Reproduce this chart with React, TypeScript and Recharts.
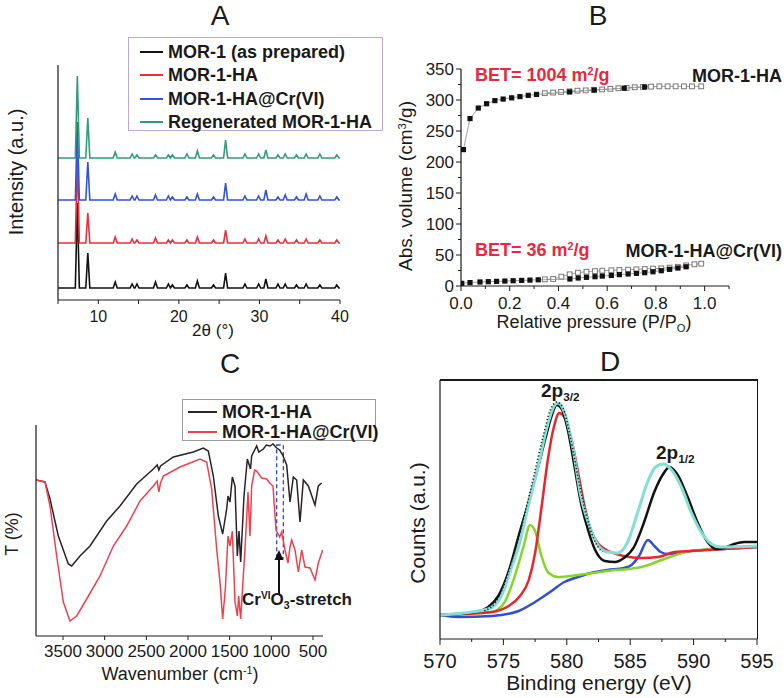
import React from "react"
import {
  LineChart,
  Line,
  XAxis,
  YAxis,
  ScatterChart,
  Scatter,
  ReferenceArea,
  ReferenceLine,
  ReferenceDot,
} from "recharts"

const FONT = '"Liberation Sans", Arial, Helvetica, sans-serif'
const INK = "#1a1a1a"

// ---------- A: PXRD patterns ----------
const xrdPeaks = [7.4, 8.7, 12.1, 14.2, 14.8, 17.1, 18.7, 19.2, 21.0, 22.3, 24.3, 25.8, 28.2, 29.9, 30.8, 32.3, 33.2, 34.6, 35.8, 37.5, 39.6]
const xrdAsPrepared = [85, 35, 6, 4, 4, 6, 4, 3, 3, 7, 3, 15, 4, 4, 9, 4, 4, 3, 4, 3, 3]
const xrdHA = [86, 30, 6, 4, 3, 5, 3, 3, 3, 6, 3, 13, 4, 4, 7, 3, 4, 3, 4, 3, 3]
const xrdCr = [78, 38, 6, 4, 4, 5, 4, 3, 3, 6, 3, 17, 4, 4, 10, 3, 5, 3, 6, 4, 3]
const xrdRegen = [82, 40, 6, 4, 3, 3, 3, 3, 4, 7, 3, 18, 4, 4, 8, 3, 4, 3, 4, 4, 3]
const xrdBaselines = [12, 57, 100, 142]
const xrdTicks = [5, 10, 15, 20, 25, 30, 35, 40]
const xrdTickLabels = [10, 20, 30, 40]
const legendA = ["MOR-1 (as prepared)", "MOR-1-HA", "MOR-1-HA@Cr(VI)", "Regenerated MOR-1-HA"]
const colorsA = ["#111111", "#e8303a", "#3152dd", "#2e9e78"]

// ---------- B: N2 isotherms ----------
const haAdsP = [0.01, 0.037, 0.071, 0.105, 0.139, 0.173, 0.208, 0.242, 0.276, 0.31, 0.446, 0.547, 0.67, 0.754]
const haAdsV = [220, 270, 287, 294, 299, 301.5, 303.5, 305.5, 307.5, 309, 313, 316, 319, 321]
const haDesP = [0.344, 0.378, 0.411, 0.445, 0.478, 0.512, 0.545, 0.579, 0.613, 0.646, 0.68, 0.713, 0.747, 0.78, 0.814, 0.848, 0.881, 0.915, 0.948, 0.986]
const haDesV = [311, 312, 313, 314, 315, 315.5, 316.5, 317, 318, 319, 319.5, 320.5, 321, 321.5, 322, 322, 322, 322, 322, 322]
const crAdsP = [0.003, 0.037, 0.078, 0.112, 0.146, 0.18, 0.214, 0.249, 0.283, 0.317, 0.447, 0.481, 0.515, 0.55, 0.58, 0.617, 0.65, 0.686, 0.72, 0.754, 0.788, 0.822, 0.856, 0.89, 0.924]
const crAdsV = [4.3, 5.5, 6.5, 7, 7.5, 8, 8.5, 9, 9.5, 10, 11.3, 12.9, 14, 15, 16, 17, 18.3, 19.4, 20.4, 21.5, 23, 24.7, 26.9, 29, 31]
const crDesP = [0.344, 0.378, 0.412, 0.446, 0.48, 0.515, 0.55, 0.58, 0.617, 0.65, 0.686, 0.72, 0.754, 0.788, 0.822, 0.856, 0.89, 0.924, 0.958, 0.986]
const crDesV = [10.7, 11.3, 15, 18.8, 21.5, 23, 24, 24.7, 25.3, 25.8, 26.3, 26.9, 27.4, 28, 28.5, 29.6, 31, 33.3, 35, 36]
const bTicksX = [0, 0.1, 0.2, 0.3, 0.4, 0.5, 0.6, 0.7, 0.8, 0.9, 1.0, 1.1]
const bLabelsX = [0, 0.2, 0.4, 0.6, 0.8, 1.0]
const bTicksY = [0, 25, 50, 75, 100, 125, 150, 175, 200, 225, 250, 275, 300, 325, 350]
const bLabelsY = [0, 50, 100, 150, 200, 250, 300, 350]

// ---------- C: FT-IR ----------
const irHAWn = [3824, 3716, 3656, 3556, 3436, 3396, 3296, 3176, 2976, 2816, 2616, 2416, 2370, 2350, 2330, 2176, 1936, 1816, 1756, 1696, 1636, 1584, 1536, 1520, 1496, 1468, 1436, 1408, 1388, 1368, 1328, 1288, 1250, 1236, 1176, 1150, 1096, 1060, 1016, 980, 936, 900, 864, 816, 776, 736, 696, 656, 616, 556, 476, 436, 396]
const irHAT = [156, 154, 137, 100, 72, 70, 80, 90, 115, 130, 152, 167, 171, 166, 170, 179, 184, 188, 185, 160, 120, 102, 127, 140, 134, 159, 150, 80, 105, 74, 140, 177, 167, 180, 190, 184, 187, 191, 190, 192, 188, 186, 181, 171, 134, 159, 156, 114, 156, 150, 131, 150, 153]
const irCrWn = [3824, 3716, 3656, 3576, 3496, 3416, 3336, 3216, 3056, 2896, 2736, 2576, 2416, 2370, 2350, 2330, 2296, 2096, 1856, 1776, 1716, 1656, 1616, 1584, 1552, 1520, 1496, 1468, 1436, 1408, 1392, 1368, 1316, 1280, 1256, 1236, 1200, 1176, 1116, 1056, 1020, 980, 944, 900, 876, 836, 800, 776, 756, 716, 676, 636, 596, 536, 476, 436, 384]
const irCrT = [156, 154, 130, 80, 34, 15, 20, 37, 60, 90, 110, 135, 150, 155, 144, 153, 160, 169, 177, 174, 147, 87, 54, 17, 47, 100, 90, 105, 34, 20, 40, 17, 87, 144, 100, 150, 166, 165, 158, 157, 153, 150, 106, 99, 104, 86, 73, 89, 96, 86, 64, 86, 69, 68, 56, 73, 86]
const irTicks = [500, 1000, 1500, 2000, 2500, 3000, 3500]
const legendC = ["MOR-1-HA", "MOR-1-HA@Cr(VI)"]
const colorsC = ["#2a2226", "#f0404c"]

// ---------- D: Cr 2p XPS ----------
const xpsBgEv = [570, 571.4, 574.1, 576.2, 577.5, 578.8, 579.8, 580.9, 581.9, 583.2, 584.5, 585.1, 585.7, 586.4, 586.9, 587.4, 588.0, 589.8, 592.4, 595]
const xpsBgC = [23, 21, 22, 27, 36, 47, 56, 61, 65, 68, 70, 73, 82, 98, 92, 86, 84, 87, 89, 91]
const xpsGreenEv = [570, 574.1, 575.1, 575.9, 576.6, 577.1, 577.5, 578.0, 578.5, 579.3, 580.9, 583.2, 585.9, 587.7, 589.8, 595]
const xpsGreenC = [23, 26, 36, 62, 92, 113, 107, 82, 66, 61, 63, 67, 71, 79, 87, 91]
const xpsRedEv = [570, 574.1, 575.4, 576.3, 577.0, 577.5, 578.0, 578.5, 579.0, 579.4, 579.8, 580.4, 580.9, 581.4, 581.9, 582.5, 583.0, 584.5, 585.9, 587.2, 588.5, 589.8, 595]
const xpsRedC = [23, 26, 32, 42, 58, 85, 130, 178, 212, 225, 221, 197, 165, 132, 108, 94, 89, 82, 80, 81, 86, 87, 91]
const xpsBlackEv = [570, 572.8, 573.8, 574.6, 575.4, 576.2, 576.9, 577.7, 578.3, 578.8, 579.2, 579.6, 580.1, 580.6, 581.1, 581.7, 582.2, 583.0, 583.8, 584.5, 585.3, 586.1, 586.9, 587.6, 588.1, 588.7, 589.5, 590.3, 591.1, 591.8, 592.4, 593.2, 594.0, 595]
const xpsBlackC = [23, 26, 31, 42, 66, 102, 132, 169, 199, 222, 233, 229, 207, 172, 136, 107, 89, 77, 76, 80, 91, 116, 146, 164, 171, 164, 142, 116, 96, 89, 90, 94, 96, 96]
const xpsFitEv = [570, 573.8, 574.8, 575.6, 576.3, 576.9, 577.7, 578.4, 579.0, 579.3, 579.8, 580.5, 581.1, 581.8, 582.4, 583.2, 584.0, 584.8, 585.6, 586.4, 587.0, 587.6, 588.2, 589.0, 589.8, 590.6, 591.4, 592.1, 595]
const xpsFitC = [23, 29, 41, 69, 96, 129, 169, 209, 232, 235, 226, 189, 142, 112, 94, 86, 85, 96, 126, 157, 171, 174, 169, 152, 126, 106, 94, 91, 92]
const xpsRawEv = [573.5, 574.5, 575.3, 576.0, 576.7, 577.4, 578.1, 578.7, 579.2, 579.7, 580.3, 580.9, 581.5, 582.1, 582.8]
const xpsRawC = [27, 38, 62, 92, 125, 162, 200, 228, 236, 230, 200, 160, 125, 100, 86]
const xpsTicks = [570, 572.5, 575, 577.5, 580, 582.5, 585, 587.5, 590, 592.5, 595]
const xpsLabels = [570, 575, 580, 585, 590, 595]

type Pt = { x: number; y: number }
const zip = (xs: number[], ys: number[]): Pt[] => xs.map((x, i) => ({ x, y: ys[i] }))

function xrdTrace(base: number, heights: number[]): Pt[] {
  const pts: Pt[] = [{ x: 5, y: base }]
  xrdPeaks.forEach((p, i) => {
    pts.push({ x: p - 0.25, y: base }, { x: p, y: base + heights[i] }, { x: p + 0.25, y: base })
  })
  pts.push({ x: 40, y: base })
  return pts
}

type Plot = { x0: number; y0: number; x1: number; y1: number }
const PAD = { l: 60, r: 30, t: 10, b: 40 }
function place(p: Plot) {
  return {
    style: { position: "absolute" as const, left: p.x0 - PAD.l, top: p.y0 - PAD.t },
    width: p.x1 - p.x0 + PAD.l + PAD.r,
    height: p.y1 - p.y0 + PAD.t + PAD.b,
  }
}
const margin = { top: PAD.t, right: PAD.r, bottom: 0, left: 0 }
const axisStyle = { stroke: INK, strokeWidth: 1.2 }
const near = (list: number[], v: number) => list.some((l) => Math.abs(l - v) < 1e-6)

function xTick(labels: number[], fmt: (v: number) => string, size: number, off: number, major = 5, minor = 3) {
  return (props: any) => {
    const { x, y, payload } = props
    const isMajor = near(labels, payload.value)
    return (
      <g>
        <line x1={x} y1={y} x2={x} y2={y + (isMajor ? major : minor)} stroke={INK} />
        {isMajor && (
          <text x={x} y={y + off} textAnchor="middle" dominantBaseline="central" fontSize={size} fontFamily={FONT} fill={INK}>
            {fmt(payload.value)}
          </text>
        )}
      </g>
    )
  }
}

function yTick(labels: number[], size: number, off: number) {
  return (props: any) => {
    const { x, y, payload } = props
    const isMajor = near(labels, payload.value)
    return (
      <g>
        <line x1={x} y1={y} x2={x - (isMajor ? 5 : 3)} y2={y} stroke={INK} />
        {isMajor && (
          <text x={x - off} y={y} textAnchor="end" dominantBaseline="central" fontSize={size} fontFamily={FONT} fill={INK}>
            {payload.value}
          </text>
        )}
      </g>
    )
  }
}

function Txt(props: {
  x: number
  y: number
  size?: number
  bold?: boolean
  color?: string
  anchor?: "start" | "middle" | "end"
  rotate?: boolean
  children: React.ReactNode
}) {
  const { x, y, size = 18, bold = false, color = INK, anchor = "middle", rotate = false } = props
  const tx = anchor === "start" ? "0" : anchor === "end" ? "-100%" : "-50%"
  return (
    <div
      style={{
        position: "absolute",
        left: x,
        top: y,
        transform: `translate(${tx}, -50%)${rotate ? " rotate(-90deg)" : ""}`,
        fontSize: size,
        fontWeight: bold ? 700 : 400,
        color,
        lineHeight: 1,
        whiteSpace: "nowrap",
        fontFamily: FONT,
      }}
    >
      {props.children}
    </div>
  )
}

const Sup = ({ children }: { children: React.ReactNode }) => (
  <span style={{ fontSize: "0.6em", position: "relative", top: "-0.55em" }}>{children}</span>
)
const Sub = ({ children }: { children: React.ReactNode }) => (
  <span style={{ fontSize: "0.62em", position: "relative", top: "0.35em" }}>{children}</span>
)

// ---------- panels ----------
const plotA: Plot = { x0: 58, y0: 65, x1: 340, y1: 300 }
function PanelA() {
  const b = place(plotA)
  const traces = [xrdAsPrepared, xrdHA, xrdCr, xrdRegen]
  return (
    <div style={b.style}>
      <LineChart width={b.width} height={b.height} margin={margin}>
        <XAxis
          type="number"
          dataKey="x"
          domain={[5, 40]}
          ticks={xrdTicks}
          interval={0}
          allowDataOverflow
          height={PAD.b}
          tickSize={0}
          tickMargin={0}
          tickLine={false}
          axisLine={axisStyle}
          tick={xTick(xrdTickLabels, String, 16, 16, 4, 4)}
        />
        <YAxis type="number" domain={[0, 235]} allowDataOverflow width={PAD.l} tick={false} tickLine={false} axisLine={axisStyle} />
        {traces.map((h, i) => (
          <Line
            key={i}
            data={xrdTrace(xrdBaselines[i], h)}
            dataKey="y"
            type="linear"
            stroke={colorsA[i]}
            strokeWidth={1.6}
            dot={false}
            activeDot={false}
            isAnimationActive={false}
          />
        ))}
      </LineChart>
    </div>
  )
}

const plotB: Plot = { x0: 461, y0: 69, x1: 729, y1: 286 }
const filledSq = (p: any) => <rect x={p.cx - 2.6} y={p.cy - 2.6} width={5.2} height={5.2} fill="#111" />
const openSq = (p: any) => (
  <rect x={p.cx - 2.4} y={p.cy - 2.4} width={4.8} height={4.8} fill="#fff" stroke="#777" strokeWidth={1} />
)
function PanelB() {
  const b = place(plotB)
  const lineStyle = { stroke: "#8a8a8a", strokeWidth: 0.8 }
  return (
    <div style={b.style}>
      <ScatterChart width={b.width} height={b.height} margin={margin}>
        <XAxis
          type="number"
          dataKey="x"
          domain={[0, 1.1]}
          ticks={bTicksX}
          interval={0}
          allowDataOverflow
          height={PAD.b}
          tickSize={0}
          tickMargin={0}
          tickLine={false}
          axisLine={axisStyle}
          tick={xTick(bLabelsX, (v) => v.toFixed(1), 17, 17, 5, 3)}
        />
        <YAxis
          type="number"
          dataKey="y"
          domain={[0, 350]}
          ticks={bTicksY}
          interval={0}
          allowDataOverflow
          width={PAD.l}
          tickSize={0}
          tickMargin={0}
          tickLine={false}
          axisLine={axisStyle}
          tick={yTick(bLabelsY, 17, 7)}
        />
        <Scatter data={zip(haDesP, haDesV)} line={lineStyle} shape={openSq} isAnimationActive={false} />
        <Scatter data={zip(haAdsP, haAdsV)} line={lineStyle} shape={filledSq} isAnimationActive={false} />
        <Scatter data={zip(crDesP, crDesV)} line={lineStyle} shape={openSq} isAnimationActive={false} />
        <Scatter data={zip(crAdsP, crAdsV)} line={lineStyle} shape={filledSq} isAnimationActive={false} />
      </ScatterChart>
    </div>
  )
}

const plotC: Plot = { x0: 36, y0: 425, x1: 323, y1: 636 }
const arrowHead = (p: any) => <path d={`M${p.cx},${p.cy} l-4.5,10 l9,0 z`} fill="#111" />
function PanelC() {
  const b = place(plotC)
  return (
    <div style={b.style}>
      <LineChart width={b.width} height={b.height} margin={margin}>
        <XAxis
          type="number"
          dataKey="x"
          domain={[380, 3824]}
          reversed
          ticks={irTicks}
          interval={0}
          allowDataOverflow
          height={PAD.b}
          tickSize={0}
          tickMargin={0}
          tickLine={false}
          axisLine={axisStyle}
          tick={xTick(irTicks, String, 17, 15, 4, 4)}
        />
        <YAxis type="number" domain={[0, 211]} allowDataOverflow width={PAD.l} tick={false} tickLine={false} axisLine={axisStyle} />
        <Line data={zip(irHAWn, irHAT)} dataKey="y" type="linear" stroke={colorsC[0]} strokeWidth={1.5} dot={false} activeDot={false} isAnimationActive={false} />
        <Line data={zip(irCrWn, irCrT)} dataKey="y" type="linear" stroke={colorsC[1]} strokeWidth={1.5} dot={false} activeDot={false} isAnimationActive={false} />
        <ReferenceArea x1={936} x2={856} y1={78} y2={191} fill="none" fillOpacity={0} stroke="#2f45d0" strokeWidth={1.3} strokeDasharray="4 3" />
        <ReferenceLine segment={[{ x: 908, y: 42 }, { x: 908, y: 80 }]} stroke="#111" strokeWidth={2} />
        <ReferenceDot x={908} y={86} r={0} shape={arrowHead} />
      </LineChart>
    </div>
  )
}

const plotD: Plot = { x0: 440, y0: 380, x1: 757, y1: 639 }
function PanelD() {
  const b = place(plotD)
  const series = [
    { xs: xpsBgEv, ys: xpsBgC, c: "#2f4ed6", w: 2.5, dash: undefined },
    { xs: xpsGreenEv, ys: xpsGreenC, c: "#86d62a", w: 2.5, dash: undefined },
    { xs: xpsRedEv, ys: xpsRedC, c: "#e8262e", w: 2.5, dash: undefined },
    { xs: xpsBlackEv, ys: xpsBlackC, c: "#111111", w: 2.5, dash: undefined },
    { xs: xpsFitEv, ys: xpsFitC, c: "#7fe0d3", w: 3, dash: undefined },
    { xs: xpsRawEv, ys: xpsRawC, c: "#222222", w: 1.6, dash: "1.2 2.2" },
  ]
  return (
    <>
      <div style={b.style}>
        <LineChart width={b.width} height={b.height} margin={margin}>
          <XAxis
            type="number"
            dataKey="x"
            domain={[570, 595]}
            ticks={xpsTicks}
            interval={0}
            allowDataOverflow
            height={PAD.b}
            tickSize={0}
            tickMargin={0}
            tickLine={false}
            axisLine={axisStyle}
            tick={xTick(xpsLabels, String, 20, 22, 6, 3)}
          />
          <YAxis type="number" domain={[-1, 258]} allowDataOverflow width={PAD.l} tick={false} tickLine={false} axisLine={axisStyle} />
          {series.map((s, i) => (
            <Line
              key={i}
              data={zip(s.xs, s.ys)}
              dataKey="y"
              type="monotone"
              stroke={s.c}
              strokeWidth={s.w}
              strokeDasharray={s.dash}
              dot={false}
              activeDot={false}
              isAnimationActive={false}
            />
          ))}
        </LineChart>
      </div>
      {/* top and right edges of the plot frame, drawn over the chart */}
      <div style={{ position: "absolute", left: plotD.x0, top: plotD.y0 - 1, width: plotD.x1 - plotD.x0 + 1, height: 1.5, background: INK }} />
      <div style={{ position: "absolute", left: plotD.x1 - 0.5, top: plotD.y0 - 1, width: 1.5, height: plotD.y1 - plotD.y0 + 1, background: INK }} />
    </>
  )
}

function Legend(props: { left: number; top: number; width: number; height: number; border: string; rows: number[]; labels: string[]; colors: string[]; lineX: [number, number]; textX: number }) {
  const { left, top, width, height, border, rows, labels, colors, lineX, textX } = props
  return (
    <>
      <div style={{ position: "absolute", left, top, width, height, border: `1px solid ${border}`, boxSizing: "border-box", background: "#fff" }} />
      {labels.map((l, i) => (
        <React.Fragment key={l}>
          <div style={{ position: "absolute", left: lineX[0], top: rows[i] - 1, width: lineX[1] - lineX[0], height: 2, background: colors[i] }} />
          <Txt x={textX} y={rows[i]} bold anchor="start">
            {l}
          </Txt>
        </React.Fragment>
      ))}
    </>
  )
}

export default function App() {
  return (
    <div style={{ position: "absolute", left: 0, top: 0, width: 784, height: 698, background: "#fff", overflow: "hidden", fontFamily: FONT }}>
      <PanelA />
      <PanelB />
      <PanelC />
      <PanelD />

      {/* panel letters */}
      <Txt x={220} y={16} size={28}>A</Txt>
      <Txt x={598} y={16} size={28}>B</Txt>
      <Txt x={230} y={364} size={28}>C</Txt>
      <Txt x={610} y={362} size={28}>D</Txt>

      {/* A */}
      <Legend
        left={128}
        top={37}
        width={255}
        height={94}
        border="#bda9d6"
        rows={[52, 75, 99, 122]}
        labels={legendA}
        colors={colorsA}
        lineX={[140, 163]}
        textX={168}
      />
      <Txt x={16} y={172} size={20} rotate>Intensity (a.u.)</Txt>
      <Txt x={213} y={330} size={17}>2θ (°)</Txt>

      {/* B */}
      <Txt x={475} y={75} bold color="#e8283c" anchor="start">
        BET= 1004 m<Sup>2</Sup>/g
      </Txt>
      <Txt x={782} y={76} bold anchor="end">MOR-1-HA</Txt>
      <Txt x={475} y={250} bold color="#e8283c" anchor="start">
        BET= 36 m<Sup>2</Sup>/g
      </Txt>
      <Txt x={782} y={251} bold anchor="end">MOR-1-HA@Cr(VI)</Txt>
      <Txt x={405} y={186} size={19} rotate>
        Abs. volume (cm<Sup>3</Sup>/g)
      </Txt>
      <Txt x={594} y={322} size={18}>
        Relative pressure (P/P<Sub>O</Sub>)
      </Txt>

      {/* C */}
      <Legend
        left={182}
        top={399}
        width={194}
        height={42}
        border="#9a9a9a"
        rows={[412, 432]}
        labels={legendC}
        colors={colorsC}
        lineX={[188, 217]}
        textX={222}
      />
      <Txt x={242} y={599} size={17} bold anchor="start">
        Cr<Sup>VI</Sup>O<Sub>3</Sub>-stretch
      </Txt>
      <Txt x={12} y={534} size={18} rotate>T (%)</Txt>
      <Txt x={180} y={674} size={18}>
        Wavenumber (cm<Sup>-1</Sup>)
      </Txt>

      {/* D */}
      <Txt x={541} y={390} size={19} bold anchor="start">
        2p<Sub>3/2</Sub>
      </Txt>
      <Txt x={656} y={452} size={19} bold anchor="start">
        2p<Sub>1/2</Sub>
      </Txt>
      <Txt x={417} y={523} size={21} rotate>Counts (a.u.)</Txt>
      <Txt x={599} y={682} size={21}>Binding energy (eV)</Txt>
    </div>
  )
}
